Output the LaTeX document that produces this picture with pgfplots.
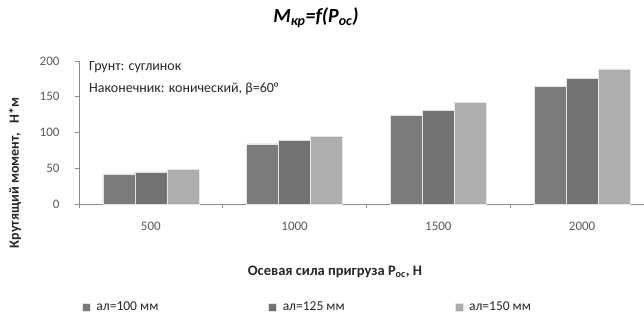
\documentclass[border=0pt]{standalone}
\usepackage{fontspec}
\setmainfont{Carlito}
\usepackage{pgfplots}
\pgfplotsset{compat=1.18}
\definecolor{cA}{HTML}{7B7B7B}
\definecolor{cB}{HTML}{727272}
\definecolor{cC}{HTML}{ADADAD}
\definecolor{axc}{HTML}{8C8C8C}
\definecolor{tk}{HTML}{595959}
\definecolor{lb}{HTML}{262626}
\begin{document}
\begin{tikzpicture}[x=1bp,y=1bp]
\useasboundingbox (0,0) rectangle (644,325);
\clip (0,0) rectangle (644,325);
\begin{axis}[
  at={(79bp,121bp)}, anchor=south west,
  scale only axis, width=575bp, height=143bp,
  xmin=-0.5, xmax=3.5, ymin=0, ymax=200,
  axis x line*=bottom, axis y line*=left,
  axis line style={axc, line width=0.8bp},
  ybar=0pt, bar width=32bp,
  xtick=data, xticklabels={500,1000,1500,2000},
  major x tick style={draw=none},
  extra x ticks={-0.5,0.5,1.5,2.5,3.5},
  extra x tick labels={},
  extra x tick style={major x tick style={draw=axc, line width=0.8bp}},
  ytick={0,50,100,150,200},
  major y tick style={draw=axc, line width=0.8bp},
  tick align=outside, major tick length=4bp,
  tick label style={font=\fontsize{13bp}{15bp}\selectfont, text=tk},
  /pgf/number format/assume math mode=true,
  yticklabel style={xshift=-12bp},
  xticklabel style={yshift=-11bp},
  legend columns=3,
  legend image code/.code={\fill[#1] (0bp,-4bp) rectangle (8bp,4bp); \path (12bp,0bp);},
  legend style={at={(0.005,-0.72)}, anchor=west, draw=none, fill=none,
    inner sep=0pt, font=\fontsize{13.5bp}{15bp}\selectfont, text=lb,
    /tikz/every even column/.append style={column sep=108bp},
    /tikz/every odd column/.append style={column sep=0bp}},
  legend cell align=left,
]
\addplot[fill=cA, draw=white!80!cA, line width=0.4bp] coordinates {(0,42) (1,84) (2,124) (3,165)};
\addplot[fill=cB, draw=white!80!cB, line width=0.4bp] coordinates {(0,45) (1,89) (2,130.5) (3,176)};
\addplot[fill=cC, draw=white!70!cC, line width=0.4bp] coordinates {(0,48.5) (1,95) (2,142) (3,189)};
\legend{ал=100 мм, ал=125 мм, ал=150 мм}
\end{axis}
\node[text=black] at (316,307) {\fontsize{20bp}{22bp}\selectfont\bfseries\itshape M\textsubscript{кр}=f(P\textsubscript{ос})};
\node[anchor=west, inner sep=0pt, text=lb] at (89,258) {\fontsize{14bp}{16bp}\selectfont Грунт: суглинок};
\node[anchor=west, inner sep=0pt, text=lb] at (89,236) {\fontsize{14bp}{16bp}\selectfont Наконечник: конический, β=60°};
\node[text=lb] at (335,53) {\fontsize{14.5bp}{16bp}\selectfont\bfseries Осевая сила пригруза P\textsubscript{ос}, Н};
\node[text=lb, rotate=90] at (15,152) {\fontsize{14bp}{16bp}\selectfont\bfseries Крутящий момент,~~ Н*м};
\end{tikzpicture}
\end{document}
